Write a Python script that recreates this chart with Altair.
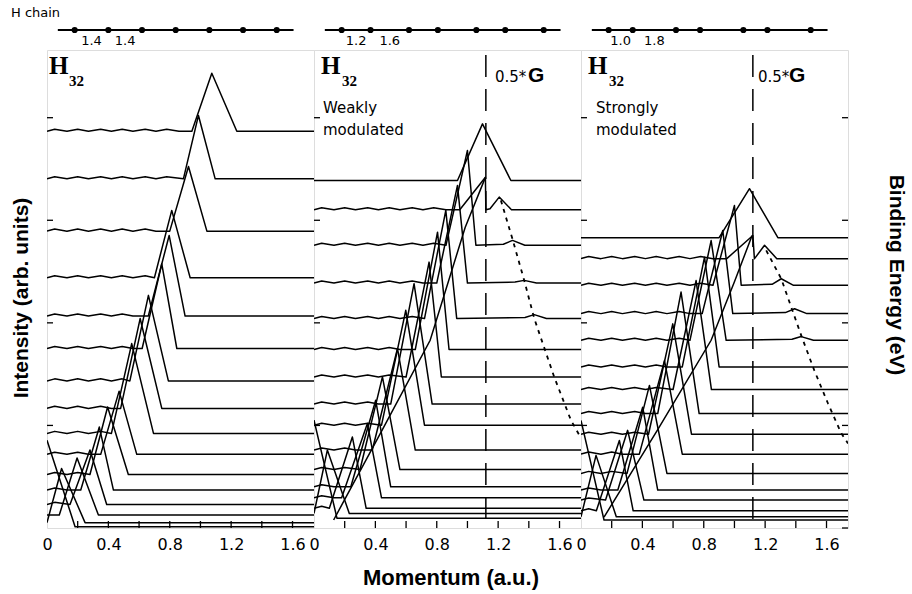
import altair as alt
import pandas as pd

K_MAX = 1.74          # momentum range shown in each panel (a.u.)
BE_RANGE = [1.7, 25.0]  # binding-energy range of the stacked spectra (eV)
HALF_G = 1.12          # 0.5*G for a 2.8 bohr unit cell

# ---- uniform chain: bonds 1.4 / 1.4 ----
P1_BASE = [5.66, 7.98, 10.53, 12.80, 14.67, 16.25, 17.83, 19.17, 20.39, 21.41, 22.39, 23.15, 23.85, 24.37, 24.74, 24.94]
P1_APEX_K = [1.074, 0.987, 0.922, 0.813, 0.796, 0.748, 0.661, 0.607, 0.552, 0.470, 0.395, 0.341, 0.280, 0.196, 0.095, 0.0]
P1_APEX_E = [2.83, 4.89, 7.38, 9.52, 10.74, 12.12, 13.66, 14.79, 16.01, 18.33, 19.10, 20.08, 21.20, 21.59, 22.10, 20.72]
P1_LEFT_K = [0.944, 0.889, 0.80, 0.70, 0.66, 0.62, 0.54, 0.48, 0.42, 0.35, 0.28, 0.22, 0.15, 0.08, 0.0, 0.0]
P1_RIGHT_K = [1.237, 1.096, 1.042, 0.933, 0.90, 0.846, 0.791, 0.748, 0.694, 0.585, 0.530, 0.433, 0.389, 0.335, 0.248, 0.183]

# ---- weakly modulated chain: bonds 1.2 / 1.6 ----
P2_BASE = [8.06, 9.49, 11.22, 13.06, 14.79, 16.30, 17.64, 18.96, 19.99, 21.20, 22.15, 22.99, 23.53, 24.04, 24.29, 24.53]
P2_APEX_K = [1.098, 1.117, 1.000, 0.935, 0.859, 0.805, 0.750, 0.652, 0.598, 0.544, 0.446, 0.402, 0.348, 0.250, 0.087, 0.0]
P2_APEX_E = [5.30, 7.90, 6.60, 8.30, 9.52, 10.58, 12.04, 13.09, 14.39, 16.25, 17.63, 18.77, 19.91, 20.56, 21.20, 19.74]
P2_LEFT_K = [0.935, 0.95, 0.86, 0.80, 0.72, 0.66, 0.60, 0.50, 0.44, 0.38, 0.30, 0.24, 0.18, 0.10, 0.0, 0.0]
P2_RIGHT_K = [1.283, 1.12, 1.055, 1.000, 0.930, 0.880, 0.830, 0.770, 0.720, 0.660, 0.560, 0.500, 0.440, 0.340, 0.230, 0.150]
P2_BUMP_K = [None, 1.207, 1.294, 1.370, 1.435, None, None, None, None, None, None, None, None, None, None, None]
P2_BUMP_E = [None, 8.87, 10.98, 12.93, 14.60, None, None, None, None, None, None, None, None, None, None, None]
# band branch below 0.5*G (solid) and its reflection beyond 0.5*G (dotted)
P2_BAND_K = [0.128, 0.444, 0.757, 0.985, 1.117]
P2_BAND_E = [24.61, 20.23, 15.85, 10.35, 7.91]
P2_TRACK_K = [1.218, 1.292, 1.370, 1.435, 1.566, 1.674, 1.740]
P2_TRACK_E = [9.03, 10.88, 12.93, 14.78, 17.65, 19.74, 20.62]

# ---- strongly modulated chain: bonds 1.0 / 1.8 ----
P3_BASE = [10.85, 11.87, 13.17, 14.55, 15.85, 17.15, 18.25, 19.42, 20.43, 21.40, 22.34, 23.15, 23.64, 24.16, 24.45, 24.61]
P3_APEX_K = [1.098, 1.120, 1.000, 0.924, 0.848, 0.805, 0.750, 0.652, 0.598, 0.544, 0.446, 0.402, 0.304, 0.250, 0.098, 0.0]
P3_APEX_E = [8.46, 10.74, 9.28, 10.50, 10.99, 11.80, 12.94, 13.50, 15.05, 16.84, 18.05, 19.11, 20.24, 20.73, 21.46, 19.76]
P3_LEFT_K = [0.90, 0.95, 0.86, 0.79, 0.71, 0.66, 0.60, 0.50, 0.44, 0.38, 0.30, 0.24, 0.16, 0.10, 0.0, 0.0]
P3_RIGHT_K = [1.283, 1.13, 1.044, 0.989, 0.946, 0.900, 0.850, 0.770, 0.720, 0.660, 0.560, 0.500, 0.410, 0.340, 0.230, 0.150]
P3_BUMP_K = [None, 1.196, 1.305, 1.392, 1.435, None, None, None, None, None, None, None, None, None, None, None]
P3_BUMP_E = [None, 11.22, 12.85, 14.31, 15.67, None, None, None, None, None, None, None, None, None, None, None]
P3_BAND_K = [0.150, 0.500, 0.848, 1.000, 1.115]
P3_BAND_E = [24.47, 20.20, 15.85, 13.00, 10.74]
P3_TRACK_K = [1.207, 1.305, 1.370, 1.435, 1.520, 1.609, 1.696, 1.740]
P3_TRACK_E = [11.47, 12.85, 14.23, 15.61, 17.31, 18.92, 20.38, 20.88]

# side-lobe ripple on the low-momentum side of each profile (crest / trough positions)
RIPPLE_CREST_K = [0.05, 0.20, 0.35, 0.49, 0.64, 0.78, 0.93]
RIPPLE_TROUGH_K = [0.13, 0.27, 0.42, 0.56, 0.71, 0.86]
RIPPLE_AMP = 0.10
RIPPLE_FIRST = [0, 1, 1]   # first curve index that shows the ripple, per panel

# chain geometry (bohr) and labels
CHAIN_BONDS = [(1.4, 1.4), (1.2, 1.6), (1.0, 1.8)]
PANEL_NOTES = [None, ["Weakly", "modulated"], ["Strongly", "modulated"]]

K_TICKS = [0.2, 0.4, 0.6, 0.8, 1.0, 1.2, 1.4, 1.6]
K_LABELS = [0, 0.4, 0.8, 1.2, 1.6]
BE_TICKS = [5, 10, 15, 20, 25]

W, H = 267, 478
SANS = "Liberation Sans"
WIDE = "DejaVu Sans"
SERIF = "Liberation Serif"


def curve_table(base, ak, ae, lk, rk, bk=None, be=None, ripple_first=0):
    ripple = sorted([(k, -RIPPLE_AMP) for k in RIPPLE_CREST_K] +
                    [(k, 0.0) for k in RIPPLE_TROUGH_K])
    rows = []
    for i in range(len(base)):
        b = base[i]
        pts = []
        if ak[i] > 0:
            pts.append((0.0, b))
            if i >= ripple_first:
                for k, d in ripple:
                    if k < lk[i] - 0.04:
                        pts.append((k, b + d))
            if lk[i] > 0:
                pts.append((lk[i], b))
        pts.append((ak[i], ae[i]))
        pts.append((rk[i], b))
        if bk is not None and bk[i] is not None:
            pts.append((bk[i] - 0.06, b - 0.05))
            pts.append((bk[i], be[i]))
            pts.append((bk[i] + 0.08, b))
        pts.append((K_MAX, b))
        for j, (k, e) in enumerate(pts):
            rows.append({"curve": i, "step": j, "k": k, "be": e})
    return pd.DataFrame(rows)


def text_layer(t, x, y, **kw):
    return alt.Chart(pd.DataFrame({"t": [t]})).mark_text(**kw).encode(
        x=alt.value(x), y=alt.value(y), text="t:N")


def panel(idx, curves, band=None, track=None):
    xs = alt.Scale(domain=[0, K_MAX], nice=False, zero=False)
    ys = alt.Scale(domain=BE_RANGE, reverse=True, nice=False, zero=False)

    def kx(field="k:Q"):
        return alt.X(field, scale=xs, axis=None)

    lines = alt.Chart(curves).mark_line(color="black", strokeWidth=1.5, clip=True,
                                        strokeJoin="round").encode(
        x=alt.X("k:Q", scale=xs,
                axis=alt.Axis(values=K_LABELS, ticks=False, domain=False, grid=False,
                              labelFontSize=16, labelFont=WIDE, labelColor="black",
                              labelPadding=8, title=None, labelFlush=False,
                              labelExpr="datum.value == 0 ? '0' : format(datum.value, '.1f')")),
        y=alt.Y("be:Q", scale=ys, axis=None),
        detail="curve:N",
        order="step:Q",
    )
    layers = [lines]

    kt = pd.DataFrame({"k": K_TICKS})
    layers.append(alt.Chart(kt).mark_rule(color="black", strokeWidth=1.3).encode(
        x=kx(), y=alt.value(H), y2=alt.value(H - 7)))
    bt = pd.DataFrame({"be": BE_TICKS[:-1]})
    layers.append(alt.Chart(bt).mark_rule(color="black", strokeWidth=1.3).encode(
        y=alt.Y("be:Q", scale=ys, axis=None), x=alt.value(0), x2=alt.value(6)))

    if idx == 2:
        rt = pd.DataFrame({"be": BE_TICKS})
        layers.append(alt.Chart(rt).mark_rule(color="black", strokeWidth=1.3).encode(
            y=alt.Y("be:Q", scale=ys,
                    axis=alt.Axis(orient="right", values=BE_TICKS, ticks=False, domain=False,
                                  grid=False, labelFontSize=15, labelFont=WIDE,
                                  labelColor="black", labelPadding=9, title=None)),
            x=alt.value(W - 6), x2=alt.value(W)))

    if idx > 0:
        layers.append(alt.Chart(pd.DataFrame({"k": [HALF_G]})).mark_rule(
            color="black", strokeWidth=1.5, strokeDash=[22, 12]).encode(
            x=kx(), y=alt.value(5), y2=alt.value(H)))
        layers.append(text_layer("0.5*", 181 if idx == 1 else 177, 32, align="left",
                                 baseline="alphabetic", fontSize=15, font=WIDE))
        layers.append(text_layer("G", 214 if idx == 1 else 208, 32, align="left",
                                 baseline="alphabetic", fontSize=21, font=SANS, fontWeight="bold"))
        bd = pd.DataFrame({"k": band[0], "be": band[1], "step": range(len(band[0]))})
        layers.append(alt.Chart(bd).mark_line(color="black", strokeWidth=1.5, clip=True).encode(
            x=kx(), y=alt.Y("be:Q", scale=ys, axis=None), order="step:Q"))
        tk = pd.DataFrame({"k": track[0], "be": track[1], "step": range(len(track[0]))})
        layers.append(alt.Chart(tk).mark_line(color="black", strokeWidth=1.8,
                                               strokeDash=[4, 5], clip=True).encode(
            x=kx(), y=alt.Y("be:Q", scale=ys, axis=None), order="step:Q"))

    # H32 label
    layers.append(text_layer("H", 2 if idx == 0 else 7, 24, align="left", baseline="alphabetic",
                             fontSize=25, font=SERIF, fontWeight="bold"))
    layers.append(text_layer("32", 22 if idx == 0 else 28, 36, align="left", baseline="alphabetic",
                             fontSize=15, font=SERIF, fontWeight="bold"))

    note = PANEL_NOTES[idx]
    if note:
        for n, line in enumerate(note):
            layers.append(text_layer(line, 9 if idx == 1 else 15, 63 + 22 * n, align="left",
                                     baseline="alphabetic", fontSize=15, font=WIDE))

    # chain sketch above the frame
    a, b = CHAIN_BONDS[idx]
    atoms = [0.0]
    for n in range(6):
        atoms.append(atoms[-1] + (a if n % 2 == 0 else b))
    cs = alt.Scale(domain=[-1.15, 9.95], nice=False, zero=False)
    chain_line = pd.DataFrame({"x": [atoms[0] - 0.7], "x2": [atoms[-1] + 0.7]})
    layers.append(alt.Chart(chain_line).mark_rule(color="black", strokeWidth=2).encode(
        x=alt.X("x:Q", scale=cs, axis=None), x2="x2:Q", y=alt.value(-20)))
    layers.append(alt.Chart(pd.DataFrame({"x": atoms})).mark_circle(
        color="black", size=38, opacity=1).encode(
        x=alt.X("x:Q", scale=cs, axis=None), y=alt.value(-20)))
    bl = pd.DataFrame({"x": [a / 2, a + b / 2], "t": [f"{a:.1f}", f"{b:.1f}"]})
    layers.append(alt.Chart(bl).mark_text(fontSize=13, font=WIDE, baseline="alphabetic").encode(
        x=alt.X("x:Q", scale=cs, axis=None), y=alt.value(-5), text="t:N"))

    if idx == 0:
        layers.append(text_layer("H chain", -36, -33, align="left", baseline="alphabetic",
                                 fontSize=13, font=WIDE))
        layers.append(text_layer("Intensity  (arb. units)", -25, 248, angle=270, align="center",
                                 baseline="middle", fontSize=21, font=SANS, fontWeight="bold"))
    if idx == 1:
        layers.append(text_layer("Momentum  (a.u.)", 137, 535, align="center",
                                 baseline="alphabetic", fontSize=22, font=SANS, fontWeight="bold"))
    if idx == 2:
        layers.append(text_layer("Binding  Energy  (eV)", 315, 225, angle=90, align="center",
                                 baseline="middle", fontSize=21, font=SANS, fontWeight="bold"))

    return alt.layer(*layers).resolve_scale(x="independent").properties(width=W, height=H)


c1 = curve_table(P1_BASE, P1_APEX_K, P1_APEX_E, P1_LEFT_K, P1_RIGHT_K,
                 ripple_first=RIPPLE_FIRST[0])
c2 = curve_table(P2_BASE, P2_APEX_K, P2_APEX_E, P2_LEFT_K, P2_RIGHT_K, P2_BUMP_K, P2_BUMP_E,
                 ripple_first=RIPPLE_FIRST[1])
c3 = curve_table(P3_BASE, P3_APEX_K, P3_APEX_E, P3_LEFT_K, P3_RIGHT_K, P3_BUMP_K, P3_BUMP_E,
                 ripple_first=RIPPLE_FIRST[2])

chart = alt.hconcat(
    panel(0, c1),
    panel(1, c2, (P2_BAND_K, P2_BAND_E), (P2_TRACK_K, P2_TRACK_E)),
    panel(2, c3, (P3_BAND_K, P3_BAND_E), (P3_TRACK_K, P3_TRACK_E)),
    spacing=0, bounds="flush",
).configure_view(stroke="black", strokeWidth=2).configure(
    padding={"left": 10, "top": 6, "right": 2, "bottom": 5}, background="white")

chart.save("out.html", embed_options={"renderer": "svg", "actions": False})
